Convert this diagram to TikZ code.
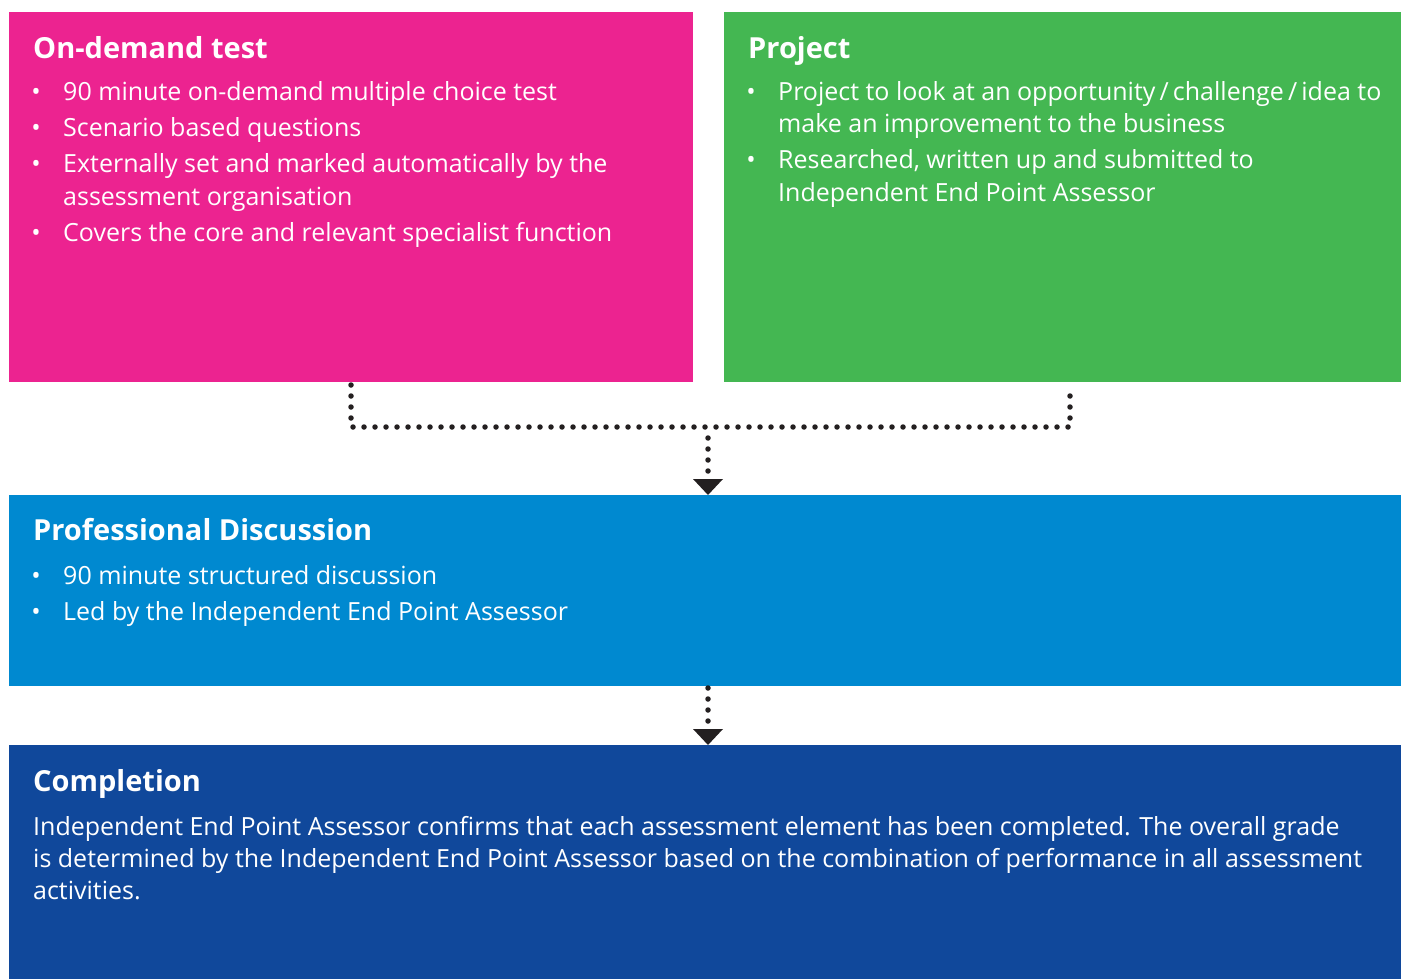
\documentclass[tikz,border=0pt]{standalone}
\usepackage{fontspec}
\setmainfont{Open Sans}
\usetikzlibrary{arrows.meta,calc}
\definecolor{cpink}{HTML}{EC2390}
\definecolor{cgreen}{HTML}{44B752}
\definecolor{cblue}{HTML}{0089D0}
\definecolor{cdark}{HTML}{10489B}
\definecolor{cdot}{HTML}{231F20}
\tikzset{
  panel/.style={draw=none, inner sep=0pt, outer sep=0pt},
  ttl/.style={anchor=base west, inner sep=0pt, text=white, font=\fontsize{29}{29}\selectfont\bfseries},
  txt/.style={anchor=base west, inner sep=0pt, text=white, font=\fontsize{25}{25}\selectfont},
  bul/.style={anchor=base, inner sep=0pt, text=white, font=\fontsize{25}{25}\selectfont},
  dotline/.style={draw=cdot, line width=5.5pt, line cap=round, dash pattern=on 0pt off 11pt},
  tip/.style={-{Triangle[width=30pt,length=16pt,line width=0pt]}}
}
\begin{document}
\begin{tikzpicture}[x=1pt,y=-1pt]
\useasboundingbox (0,0) rectangle (1401,979);
% panels
\path[fill=cpink] (9,12) rectangle (693,382);
\node[panel, minimum width=684pt, minimum height=370pt] (pink) at (351,197) {};
\path[fill=cgreen] (724,12) rectangle (1401,382);
\node[panel, minimum width=677pt, minimum height=370pt] (green) at (1062.5,197) {};
\path[fill=cblue] (9,495) rectangle (1401,686);
\node[panel, minimum width=1392pt, minimum height=191pt] (blue) at (705,590.5) {};
\path[fill=cdark] (9,745) rectangle (1401,979);
\node[panel, minimum width=1392pt, minimum height=234pt] (dark) at (705,862) {};

% pink text
\node[ttl] (t1) at (33,59) {On-demand test};
\node[bul] (b11) at (36,101) {•};
\node[txt] (l11) at (63,101) {90 minute on-demand multiple choice test};
\node[bul] (b12) at (36,137) {•};
\node[txt] (l12) at (63,137) {Scenario based questions};
\node[bul] (b13) at (36,173) {•};
\node[txt] (l13) at (63,173) {Externally set and marked automatically by the};
\node[txt] (l14) at (63,205) {assessment organisation};
\node[bul] (b14) at (36,241) {•};
\node[txt] (l15) at (63,241) {Covers the core and relevant specialist function};

% green text
\node[ttl] (t2) at (748,59) {Project};
\node[bul] (b21) at (751,101) {•};
\node[txt] (l21) at (778,101) {Project to look at an opportunity\,/\,challenge\,/\,idea to};
\node[txt] (l22) at (778,133) {make an improvement to the business};
\node[bul] (b22) at (751,169) {•};
\node[txt] (l23) at (778,169) {Researched, written up and submitted to};
\node[txt] (l24) at (778,201) {Independent End Point Assessor};

% blue text
\node[ttl] (t3) at (33,540) {Professional Discussion};
\node[bul] (b31) at (36,584) {•};
\node[txt] (l31) at (63,584) {90 minute structured discussion};
\node[bul] (b32) at (36,620) {•};
\node[txt] (l32) at (63,620) {Led by the Independent End Point Assessor};

% dark text
\node[ttl] (t4) at (33,791) {Completion};
\node[txt] (l41) at (33,835) {Independent End Point Assessor confirms that each assessment element has been completed. The overall grade};
\node[txt] (l42) at (33,867) {is determined by the Independent End Point Assessor based on the combination of performance in all assessment};
\node[txt] (l43) at (33,899) {activities.};

% connectors
\coordinate (pL) at (351,385);
\coordinate (pR) at (1070,391);
\coordinate (jL) at (351,427);
\coordinate (jR) at (1070,427);
\coordinate (jM) at (708,427);
\coordinate (m2) at (708,688);
\draw[dotline] (pL) -- (jL) -- (jR) -- (pR);
\draw[dotline, tip] ($(jM)+(0,11)$) -- (jM |- blue.north);
\draw[dotline, tip] (m2) -- (m2 |- dark.north);
\end{tikzpicture}
\end{document}
